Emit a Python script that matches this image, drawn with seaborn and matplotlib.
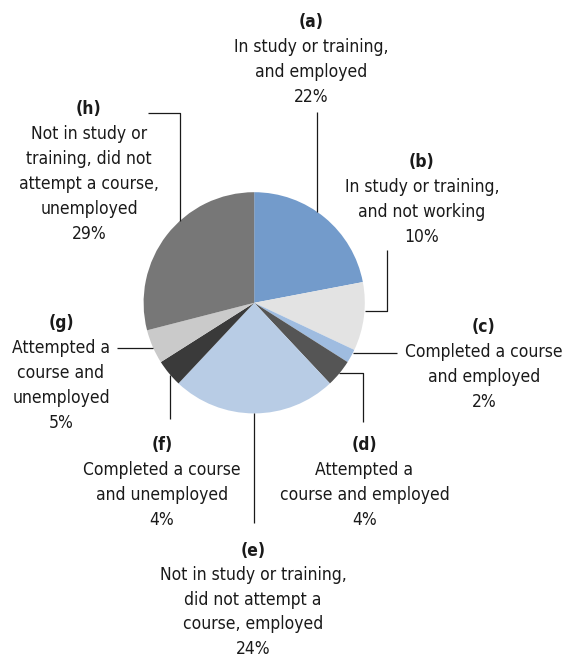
import numpy as np
import matplotlib
matplotlib.use("Agg")
import matplotlib.pyplot as plt
from matplotlib import font_manager
import seaborn as sns

# ---- data ----
letters = ["(a)", "(b)", "(c)", "(d)", "(e)", "(f)", "(g)", "(h)"]
descriptions = [
    ["In study or training,", "and employed"],
    ["In study or training,", "and not working"],
    ["Completed a course", "and employed"],
    ["Attempted a", "course and employed"],
    ["Not in study or training,", "did not attempt a", "course, employed"],
    ["Completed a course", "and unemployed"],
    ["Attempted a", "course and", "unemployed"],
    ["Not in study or", "training, did not", "attempt a course,", "unemployed"],
]
shares = [22, 10, 2, 4, 24, 4, 5, 29]
colors = ["#739BCB", "#E3E3E3", "#9FBCE0", "#555555",
          "#B8CCE5", "#3A3A3A", "#CACACA", "#777777"]

# ---- layout (pixel coordinates, y downwards) ----
W, H = 569, 659
cx, cy, R = 254.2, 302.8, 110.6
label_x = [311, 422, 484, 364.5, 253, 162, 61, 89]
label_y0 = [20, 160, 325, 443, 549, 443, 320.7, 106.7]
pitches = [25.0, 25.0, 25.0, 25.0, 24.4, 25.0, 25.0, 25.0]
leaders = [
    ("v", 316.7, "top", [(316.7, 111.7)]),
    ("h", 310.7, "right", [(386.7, 310.7), (386.7, 250.0)]),
    ("h", 353.3, "right", [(397.0, 353.3)]),
    ("h", 373.3, "right", [(362.7, 373.3), (362.7, 421.7)]),
    ("v", 254.3, "bottom", [(254.3, 523.0)]),
    ("v", 170.0, "bottom", [(170.0, 419.3)]),
    ("h", 348.3, "left", [(116.7, 348.3)]),
    ("v", 180.0, "top", [(180.0, 112.7), (148.0, 112.7)]),
]

sns.set_theme(style="white")
fonts = font_manager.fontManager.ttflist
avail = {f.name for f in fonts}
stretch_kw = {}
if "Liberation Sans Narrow" in avail:
    fam = "Liberation Sans Narrow"
elif any(f.name == "DejaVu Sans" and "condensed" in str(f.stretch) for f in fonts):
    fam = "DejaVu Sans"
    stretch_kw = {"fontstretch": "condensed"}
else:
    fam = "Roboto"
plt.rcParams["font.family"] = [fam, "DejaVu Sans"]

fig = plt.figure(figsize=(W / 100, H / 100), dpi=100)
ax = fig.add_axes([0, 0, 1, 1])
ax.pie(shares, colors=colors, startangle=-90, counterclock=True,
       center=(cx, cy), radius=R, frame=True,
       wedgeprops=dict(linewidth=0))
ax.set_xlim(0, W)
ax.set_ylim(H, 0)
ax.set_aspect("equal")
ax.axis("off")

fs = 12.5
for i in range(len(letters)):
    lines = [letters[i]] + descriptions[i] + [f"{shares[i]}%"]
    for j, ln in enumerate(lines):
        ax.text(label_x[i], label_y0[i] + j * pitches[i], ln, ha="center",
                va="center_baseline", fontsize=fs, color="#1a1a1a",
                fontweight="bold" if j == 0 else "normal", **stretch_kw)

for kind, c, side, pts in leaders:
    if kind == "v":
        d = np.sqrt(R**2 - (c - cx) ** 2)
        start = (c, cy - d if side == "top" else cy + d)
    else:
        d = np.sqrt(R**2 - (c - cy) ** 2)
        start = (cx + d if side == "right" else cx - d, c)
    xs = [start[0]] + [p[0] for p in pts]
    ys = [start[1]] + [p[1] for p in pts]
    ax.plot(xs, ys, color="#1a1a1a", lw=0.9, solid_capstyle="butt")

fig.savefig("out.png", dpi=100, facecolor="white")
